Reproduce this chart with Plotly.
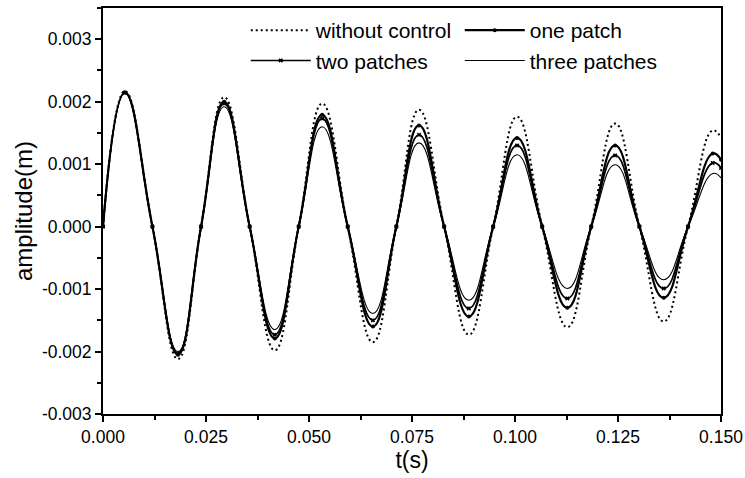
import plotly.graph_objects as go

# time samples (s): start, peaks, zero crossings, troughs
t = [0.0, 0.0053, 0.0120, 0.0182, 0.0238, 0.0294, 0.0356, 0.0417, 0.0475,
     0.0532, 0.0594, 0.0655, 0.0712, 0.0767, 0.0828, 0.0888, 0.0947, 0.1005,
     0.1066, 0.1127, 0.1185, 0.1243, 0.1302, 0.1361, 0.1420, 0.1480, 0.1500]

without_control = [0.0, 0.00217, 0.0, -0.00212, 0.0, 0.00207, 0.0, -0.00198, 0.0,
                   0.00197, 0.0, -0.00185, 0.0, 0.00187, 0.0, -0.00173, 0.0, 0.00176,
                   0.0, -0.00161, 0.0, 0.00165, 0.0, -0.00152, 0.0, 0.00154, 0.00142]
one_patch = [0.0, 0.00215, 0.0, -0.00205, 0.0, 0.00200, 0.0, -0.00179, 0.0,
             0.00179, 0.0, -0.00160, 0.0, 0.00162, 0.0, -0.00144, 0.0, 0.00142,
             0.0, -0.00130, 0.0, 0.00130, 0.0, -0.00114, 0.0, 0.00117, 0.00107]
two_patches = [0.0, 0.00214, 0.0, -0.00203, 0.0, 0.00197, 0.0, -0.00173, 0.0,
               0.00173, 0.0, -0.00150, 0.0, 0.00147, 0.0, -0.00131, 0.0, 0.00130,
               0.0, -0.00115, 0.0, 0.00114, 0.0, -0.00099, 0.0, 0.00102, 0.00094]
three_patches = [0.0, 0.00213, 0.0, -0.00200, 0.0, 0.00192, 0.0, -0.00165, 0.0,
                 0.00160, 0.0, -0.00139, 0.0, 0.00134, 0.0, -0.00118, 0.0, 0.00115,
                 0.0, -0.00099, 0.0, 0.00099, 0.0, -0.00085, 0.0, 0.00085, 0.00078]

x_ticks = [0.0, 0.025, 0.05, 0.075, 0.1, 0.125, 0.15]
x_tick_labels = ["0.000", "0.025", "0.050", "0.075", "0.100", "0.125", "0.150"]
y_ticks = [-0.003, -0.002, -0.001, 0.0, 0.001, 0.002, 0.003]
y_tick_labels = ["-0.003", "-0.002", "-0.001", "0.000", "0.001", "0.002", "0.003"]

FONT = "Liberation Sans, Arial, sans-serif"

fig = go.Figure()
fig.add_trace(go.Scatter(x=t, y=without_control, name="without control", mode="lines",
                         line=dict(color="black", width=2, dash="2px,3px", shape="spline", smoothing=1.3)))
fig.add_trace(go.Scatter(x=t, y=one_patch, name="one patch", mode="lines+markers",
                         line=dict(color="black", width=2.2, shape="spline", smoothing=1.3),
                         marker=dict(symbol="circle", size=4, color="black")))
fig.add_trace(go.Scatter(x=t, y=two_patches, name="two patches", mode="lines+markers",
                         line=dict(color="black", width=1.7, shape="spline", smoothing=1.3),
                         marker=dict(symbol="x", size=4, color="black")))
fig.add_trace(go.Scatter(x=t, y=three_patches, name="three patches", mode="lines",
                         line=dict(color="black", width=1.1, shape="spline", smoothing=1.3)))

axis_common = dict(
    showline=True, linecolor="black", linewidth=2, mirror=True,
    ticks="outside", ticklen=6, tickwidth=2, tickcolor="black",
    showgrid=False, zeroline=False,
    tickfont=dict(family=FONT, size=17.5, color="black"),
    minor=dict(ticks="outside", ticklen=4, tickwidth=1.5, tickcolor="black"),
)

fig.update_xaxes(range=[0, 0.15], tickvals=x_ticks, ticktext=x_tick_labels,
                 title=dict(text="t(s)", font=dict(family=FONT, size=23, color="black"), standoff=6),
                 **axis_common)
fig.update_xaxes(minor=dict(dtick=0.0125, tick0=0))
fig.update_yaxes(range=[-0.003, 0.0035], tickvals=y_ticks, ticktext=y_tick_labels,
                 title=dict(text="amplitude(m)", font=dict(family=FONT, size=24, color="black"), standoff=2),
                 **axis_common)
fig.update_yaxes(minor=dict(dtick=0.0005, tick0=0))

fig.update_layout(
    width=745, height=478,
    margin=dict(l=103, r=24, t=8, b=64, autoexpand=False),
    paper_bgcolor="white", plot_bgcolor="white",
    font=dict(family=FONT, color="black"),
    showlegend=True,
    legend=dict(orientation="h", x=0.231, y=0.995, xanchor="left", yanchor="top",
                entrywidth=139, itemwidth=60, tracegroupgap=0,
                bgcolor="rgba(0,0,0,0)",
                font=dict(family=FONT, size=21, color="black")),
)

fig.write_html("out.html", config={"displayModeBar": False},
               post_script="document.body.style.margin='0';")
